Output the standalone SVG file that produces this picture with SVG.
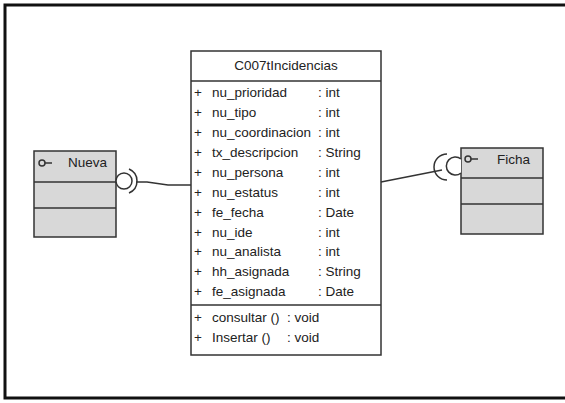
<svg xmlns="http://www.w3.org/2000/svg" width="565" height="403" viewBox="0 0 565 403">
<style>
text{font-family:"Liberation Sans",Arial,sans-serif;font-size:13.5px;fill:#222}
.box{fill:#fff;stroke:#333;stroke-width:1.5}
.gbox{fill:#d8d8d8;stroke:#333;stroke-width:1.5}
.ln{fill:none;stroke:#333;stroke-width:1.5}
</style>
<rect x="5" y="5" width="600" height="393" fill="#fff" stroke="#111" stroke-width="3"/>
<g id="C007tIncidencias">
<rect class="box" x="191" y="51" width="190" height="304"/>
<line class="ln" x1="191" y1="81" x2="381" y2="81"/>
<line class="ln" x1="191" y1="305" x2="381" y2="305"/>
<text x="286" y="70" text-anchor="middle">C007tIncidencias</text>
<g>
<text x="194" y="97">+</text><text x="212" y="97">nu_prioridad</text><text x="318" y="97">: int</text>
<text x="194" y="117">+</text><text x="212" y="117">nu_tipo</text><text x="318" y="117">: int</text>
<text x="194" y="137">+</text><text x="212" y="137">nu_coordinacion</text><text x="318" y="137">: int</text>
<text x="194" y="157">+</text><text x="212" y="157">tx_descripcion</text><text x="318" y="157">: String</text>
<text x="194" y="177">+</text><text x="212" y="177">nu_persona</text><text x="318" y="177">: int</text>
<text x="194" y="197">+</text><text x="212" y="197">nu_estatus</text><text x="318" y="197">: int</text>
<text x="194" y="217">+</text><text x="212" y="217">fe_fecha</text><text x="318" y="217">: Date</text>
<text x="194" y="237">+</text><text x="212" y="237">nu_ide</text><text x="318" y="237">: int</text>
<text x="194" y="256">+</text><text x="212" y="256">nu_analista</text><text x="318" y="256">: int</text>
<text x="194" y="276">+</text><text x="212" y="276">hh_asignada</text><text x="318" y="276">: String</text>
<text x="194" y="296">+</text><text x="212" y="296">fe_asignada</text><text x="318" y="296">: Date</text>
<text x="194" y="322">+</text><text x="212" y="322">consultar ()</text><text x="287" y="322">: void</text>
<text x="194" y="342">+</text><text x="212" y="342">Insertar ()</text><text x="287" y="342">: void</text>
</g>
</g>
<g id="Nueva">
<rect class="gbox" x="34" y="151" width="82" height="86"/>
<line class="ln" x1="34" y1="182" x2="116" y2="182"/>
<line class="ln" x1="34" y1="208" x2="116" y2="208"/>
<circle class="ln" cx="42" cy="163" r="3"/>
<line class="ln" x1="45" y1="163" x2="52" y2="163"/>
<text x="68" y="167" fill="#555">Nueva</text>
<circle fill="#fff" stroke="#333" stroke-width="1.5" cx="124" cy="181" r="8"/>
</g>
<g id="Ficha">
<rect class="gbox" x="461" y="148" width="82" height="86"/>
<line class="ln" x1="461" y1="178" x2="543" y2="178"/>
<line class="ln" x1="461" y1="204" x2="543" y2="204"/>
<circle class="ln" cx="468" cy="159" r="3"/>
<line class="ln" x1="471" y1="159" x2="478" y2="159"/>
<text x="497" y="164" fill="#555">Ficha</text>
<path fill="#fff" stroke="#333" stroke-width="1.5" d="M461,159 A9,9 0 1 0 461,173"/>
</g>
<g id="connectors">
<path class="ln" d="M129,169 A13,13 0 0 1 129,193"/>
<polyline class="ln" points="136,182 147,182 168,185 191,185"/>
<path class="ln" d="M447,154 A13,13 0 0 0 447,180"/>
<polyline class="ln" points="442,170 381,182"/>
</g>
</svg>
